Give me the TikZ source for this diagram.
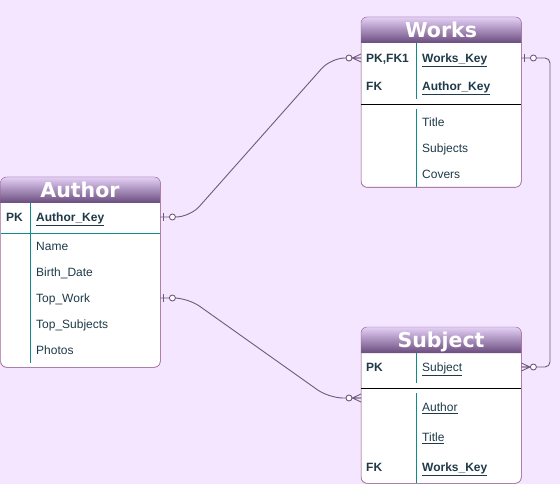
\documentclass[tikz,border=0pt]{standalone}
\usepackage{fontspec}
\setmainfont{Liberation Sans}
\newfontfamily\headfont{DejaVu Sans}
\usetikzlibrary{positioning}
\definecolor{bgcol}{HTML}{F3E6FE}
\definecolor{framecol}{HTML}{9C5F94}
\definecolor{hdrtop}{HTML}{E4D0F6}
\definecolor{hdrbot}{HTML}{6A4C7E}
\definecolor{txtcol}{HTML}{1E3A48}
\definecolor{divcol}{HTML}{0E8C8C}
\definecolor{linkcol}{HTML}{6E5A7E}

\begin{document}
\begin{tikzpicture}[x=1pt,y=-1pt,
    tbl/.style={draw=framecol,fill=white,rounded corners=6pt,anchor=north west,
      minimum width=160pt,inner sep=0pt},
    hdr/.style={top color=hdrtop,bottom color=hdrbot},
    ttl/.style={anchor=base,inner sep=0pt,text=white,
      font=\headfont\bfseries\fontsize{20.5}{21}\selectfont},
    keylbl/.style={anchor=base west,inner sep=0pt,text=txtcol,
      font=\bfseries\fontsize{12}{14}\selectfont},
    attr/.style={anchor=base west,inner sep=0pt,text=txtcol,
      font=\fontsize{12}{14}\selectfont},
    keyattr/.style={attr,font=\bfseries\fontsize{12}{14}\selectfont},
    link/.style={draw=linkcol,line width=0.9pt},
    onezero/.pic={\draw[linkcol,line width=0.9pt] (3,-4) -- (3,4);
      \draw[linkcol,line width=0.9pt,fill=white] (12,0) circle (3);},
    manyzero/.pic={\draw[linkcol,line width=0.9pt] (0,-4) -- (8.5,0) -- (0,4) (0,0) -- (8.5,0);
      \draw[linkcol,line width=0.9pt,fill=white] (12,0) circle (3);}]
 \fill[bgcol] (0,0) rectangle (560,484);
 \useasboundingbox (0,0) rectangle (560,484);

 % Author
 \node[tbl,minimum height=190pt,minimum width=159.5pt] (author) at (0.5,177) {};
 \shade[hdr] ([yshift=-26pt]author.north west) [rounded corners=6pt] -- (author.north west)
   -- (author.north east) [sharp corners] -- ([yshift=-26pt]author.north east) -- cycle;
 \draw[draw=framecol,rounded corners=6pt] (author.south west) rectangle (author.north east);
 \node[ttl] (authorT) at (80,197.5) {Author};
 \draw[divcol] (author.west |- 0,233) -- (author.east |- 0,233);
 \draw[divcol] (30,203) -- (30,363);
 \node[keylbl] (apk) at (6,221.5) {PK};
 \node[keyattr] (akey) at (36,221.5) {\underline{Author\_Key}};
 \node[attr] (aname) at (36,250.5) {Name};
 \node[attr] (abirth) at (36,276.5) {Birth\_Date};
 \node[attr] (atop) at (36,302.5) {Top\_Work};
 \node[attr] (asubj) at (36,328.5) {Top\_Subjects};
 \node[attr] (aphoto) at (36,354.5) {Photos};

 % Works
 \node[tbl,minimum height=170pt] (works) at (361,17) {};
 \shade[hdr] ([yshift=-26pt]works.north west) [rounded corners=6pt] -- (works.north west)
   -- (works.north east) [sharp corners] -- ([yshift=-26pt]works.north east) -- cycle;
 \draw[draw=framecol,rounded corners=6pt] (works.south west) rectangle (works.north east);
 \node[ttl] (worksT) at (441,37.5) {Works};
 \draw[black] (works.west |- 0,104) -- (works.east |- 0,104);
 \draw[divcol] (416,43) -- (416,99) (416,109) -- (416,187);
 \node[keylbl] (wpk) at (366,62.5) {PK,FK1};
 \node[keyattr] (wkey) at (422,62.5) {\underline{Works\_Key}};
 \node[keylbl] (wfk) at (366,90.5) {FK};
 \node[keyattr] (wauth) at (422,90.5) {\underline{Author\_Key}};
 \node[attr] (wtitle) at (422,126.5) {Title};
 \node[attr] (wsubj) at (422,152.5) {Subjects};
 \node[attr] (wcov) at (422,178.5) {Covers};

 % Subject
 \node[tbl,minimum height=156pt] (subject) at (361,327) {};
 \shade[hdr] ([yshift=-26pt]subject.north west) [rounded corners=6pt] -- (subject.north west)
   -- (subject.north east) [sharp corners] -- ([yshift=-26pt]subject.north east) -- cycle;
 \draw[draw=framecol,rounded corners=6pt] (subject.south west) rectangle (subject.north east);
 \node[ttl] (subjectT) at (441,347.5) {Subject};
 \draw[black] (subject.west |- 0,388) -- (subject.east |- 0,388);
 \draw[divcol] (416,353) -- (416,383) (416,393) -- (416,483);
 \node[keylbl] (spk) at (366,371.5) {PK};
 \node[attr] (skey) at (422,371.5) {\underline{Subject}};
 \node[attr] (sauth) at (422,411.5) {\underline{Author}};
 \node[attr] (stitle) at (422,441.5) {\underline{Title}};
 \node[keylbl] (sfk) at (366,471.5) {FK};
 \node[keyattr] (swkey) at (422,471.5) {\underline{Works\_Key}};

 % links
 \coordinate (a1) at (author.east |- 0,217);
 \coordinate (w1) at (works.west |- 0,58);
 \coordinate (a2) at (author.east |- 0,298);
 \coordinate (s2) at (subject.west |- 0,398);
 \coordinate (w3) at (works.east |- 0,58);
 \coordinate (s3) at (subject.east |- 0,367);
 \draw[link,rounded corners=14pt] (a1) -- (190,217) -- (331,58) -- (w1);
 \draw[link,rounded corners=14pt] (a2) -- (188,298) -- (329,398) -- (s2);
 \draw[link,rounded corners=5pt] (w3) -- (550,58) -- (550,367) -- (s3);
 \pic at (a1) {onezero};
 \pic at (a2) {onezero};
 \pic at (w3) {onezero};
 \pic[xscale=-1] at (w1) {manyzero};
 \pic[xscale=-1] at (s2) {manyzero};
 \pic at (s3) {manyzero};
\end{tikzpicture}
\end{document}
